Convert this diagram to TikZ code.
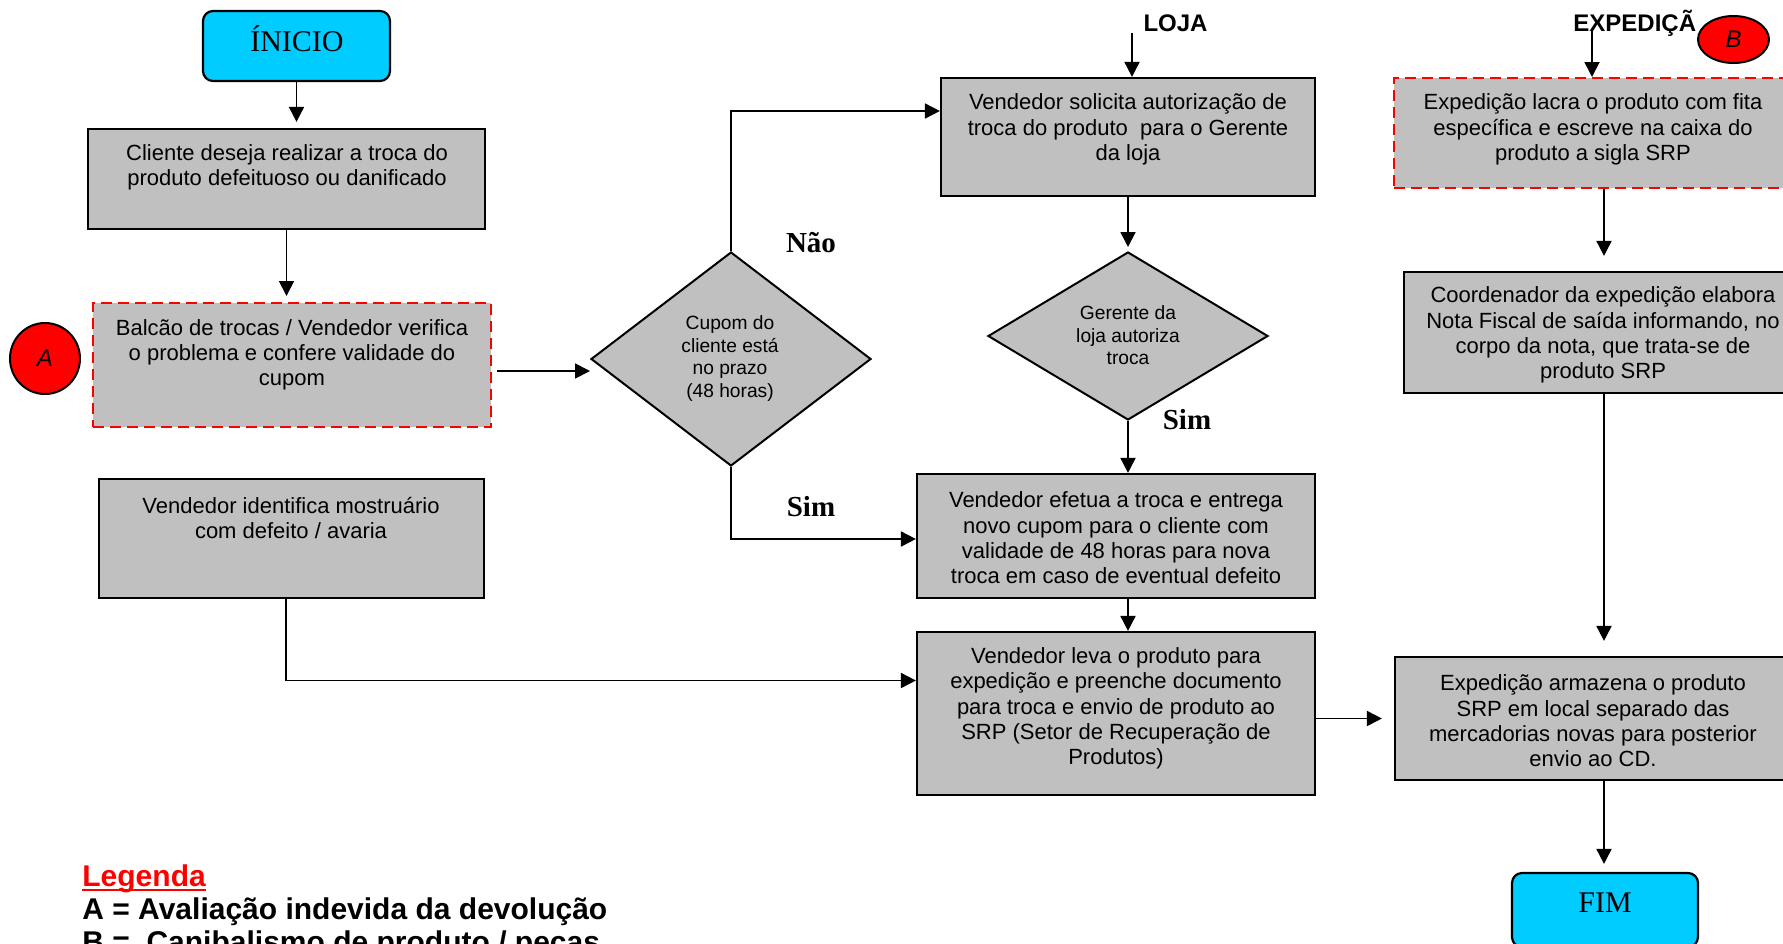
\documentclass[tikz,border=0pt]{standalone}
\usepackage{fontspec}
\setmainfont{Liberation Sans}
\newfontfamily\serifT{Liberation Serif}
\usetikzlibrary{arrows.meta,shapes.geometric,calc}

\definecolor{boxgray}{RGB}{192,192,192}
\definecolor{termcyan}{RGB}{0,204,255}

\begin{document}
\begin{tikzpicture}[x=0.5pt,y=-0.5pt,
  procbox/.style={draw=black, line width=1.1pt, fill=boxgray, inner sep=0pt},
  riskbox/.style={draw=red, dash pattern=on 5.5pt off 3pt, line width=1pt, fill=boxgray, inner sep=0pt},
  termbox/.style={draw=black, line width=1.1pt, fill=termcyan, rounded corners=5pt, inner sep=0pt},
  decision/.style={diamond, draw=black, line width=1pt, fill=boxgray, inner sep=0pt},
  marker/.style={ellipse, draw=black, line width=1pt, fill=red, inner sep=0pt, font=\fontsize{12}{14}\selectfont\itshape},
  boxtext/.style={inner sep=0pt, align=center, yshift=-1pt, font=\fontsize{11}{12.65}\selectfont},
  dectext/.style={inner sep=0pt, align=center, yshift=-1pt, font=\fontsize{9.6}{11.25}\selectfont},
  termtext/.style={inner sep=0pt, font=\serifT\fontsize{15}{18}\selectfont},
  answer/.style={inner sep=0pt, font=\serifT\bfseries\fontsize{14.5}{17}\selectfont},
  area/.style={inner sep=0pt, font=\bfseries\fontsize{12}{14}\selectfont},
  legend/.style={inner sep=0pt, anchor=base west, font=\bfseries\fontsize{15}{17}\selectfont},
  arr/.style={draw=black, line width=0.9pt, -{Triangle[length=7.5pt,width=7.5pt]}},
  line/.style={draw=black, line width=0.9pt}]

\clip (0,0) rectangle (1783,943);
\fill[white] (0,0) rectangle (1783,943);

% ---- boxes ----
\node[termbox, minimum width=93.5pt, minimum height=35pt] (inicio) at (296.5,46) {};
\node[procbox, minimum width=198.5pt, minimum height=50pt] (cliente) at (286.5,179) {};
\node[riskbox, minimum width=199pt, minimum height=62pt] (balcao) at (292,365) {};
\node[procbox, minimum width=192.5pt, minimum height=59.5pt] (identifica) at (291.5,538.5) {};
\node[decision, minimum width=140pt, minimum height=107pt] (cupom) at (731,359) {};
\node[procbox, minimum width=187pt, minimum height=59pt] (solicita) at (1128,137) {};
\node[decision, minimum width=140pt, minimum height=84pt] (gerente) at (1128,336) {};
\node[procbox, minimum width=199pt, minimum height=62pt] (efetua) at (1116,536) {};
\node[procbox, minimum width=199pt, minimum height=81.5pt] (leva) at (1116,713.5) {};
\node[riskbox, minimum width=199pt, minimum height=55pt] (lacra) at (1593,133) {};
\node[procbox, minimum width=199pt, minimum height=60.5pt] (coord) at (1603,332.5) {};
\node[procbox, minimum width=199pt, minimum height=61.5pt] (armazena) at (1594,718.5) {};
\node[termbox, minimum width=93pt, minimum height=37pt] (fim) at (1605,910) {};

% ---- box texts ----
\node[termtext, anchor=base] (tinicio) at (297,51) {ÍNICIO};
\node[boxtext] (tcliente) at (287,165.5) {Cliente deseja realizar a troca do\\produto defeituoso ou danificado};
\node[boxtext] (tbalcao) at (292,353) {Balcão de trocas / Vendedor verifica\\o problema e confere validade do\\cupom};
\node[boxtext] (tidentifica) at (291,516) {Vendedor identifica mostruário\\com defeito / avaria};
\node[dectext] (tcupom) at (730,356.5) {Cupom do\\cliente está\\no prazo\\(48 horas)};
\node[boxtext] (tsolicita) at (1128,127.5) {Vendedor solicita autorização de\\troca do produto\ \ para o Gerente\\da loja};
\node[dectext] (tgerente) at (1128,333.5) {Gerente da\\loja autoriza\\troca};
\node[boxtext] (tefetua) at (1116,536) {Vendedor efetua a troca e entrega\\novo cupom para o cliente com\\validade de 48 horas para nova\\troca em caso de eventual defeito};
\node[boxtext] (tleva) at (1116,706.5) {Vendedor leva o produto para\\expedição e preenche documento\\para troca e envio de produto ao\\SRP (Setor de Recuperação de\\Produtos)};
\node[boxtext] (tlacra) at (1593,127.5) {Expedição lacra o produto com fita\\específica e escreve na caixa do\\produto a sigla SRP};
\node[boxtext] (tcoord) at (1603,333) {Coordenador da expedição elabora\\Nota Fiscal de saída informando, no\\corpo da nota, que trata-se de\\produto SRP};
\node[boxtext] (tarmazena) at (1593,719) {Expedição armazena o produto\\SRP em local separado das\\mercadorias novas para posterior\\envio ao CD.};
\node[termtext, anchor=base] (tfim) at (1605,912) {FIM};

% ---- area headings and risk markers ----
\node[area] (loja) at (1175.5,23) {LOJA};
\node[area, anchor=west] (exped) at (1573,23) {EXPEDIÇÃ};
\node[marker, minimum width=35pt, minimum height=35.5pt] (riskA) at (45,358.5) {A};
\node[marker, minimum width=35.5pt, minimum height=23.5pt] (riskB) at (1733.5,39.5) {B};

\coordinate (lojaIn) at (1132,33);
\coordinate (expIn) at (1592,30);
\coordinate (colE) at (1604,0);

% ---- answers ----
\node[answer] (nao) at (811,243) {Não};
\node[answer] (sim1) at (811,507) {Sim};
\node[answer] (sim2) at (1187,420) {Sim};

% ---- connectors ----
\draw[arr, shorten >=3pt] (inicio.south) -- (inicio.south |- cliente.north);
\draw[arr, shorten >=3pt] (cliente.south) -- (cliente.south |- balcao.north);
\draw[arr] ($(balcao.east)+(5,6)$) -- ($(cupom.west)+(0,12)$);
\draw[arr] (cupom.north) |- ($(solicita.west)+(0,-26)$);
\draw[arr] (cupom.south) |- ($(efetua.west)+(0,3)$);
\draw[arr] (lojaIn) -- (lojaIn |- solicita.north);
\draw[arr, shorten >=2pt] (solicita.south) -- (gerente.north);
\draw[arr] (gerente.south) -- (gerente.south |- efetua.north);
\draw[arr] (gerente.south |- efetua.south) -- (gerente.south |- leva.north);
\draw[arr] ($(identifica.south)+(-5.5,0)$) |- ($(leva.west)+(0,-33)$);
\draw[arr, shorten >=6pt] (leva.east |- armazena.west) -- (armazena.west);
\draw[arr] (expIn) -- (expIn |- lacra.north);
\draw[arr, shorten >=7.5pt] (colE |- lacra.south) -- (colE |- coord.north);
\draw[arr, shorten >=7.5pt] (colE |- coord.south) -- (colE |- armazena.north);
\draw[arr, shorten >=4pt] (colE |- armazena.south) -- (colE |- fim.north);

% ---- legend ----
\node[legend, text=red] (leg) at (82,886) {Legenda};
\draw[red, line width=1.4pt] ([yshift=-2pt]leg.base west) -- ([yshift=-2pt]leg.base east);
\node[legend] (legA) at (82,919) {A = Avaliação indevida da devolução};
\node[legend] (legB) at (82,952) {B =\ \ Canibalismo de produto / peças};
\end{tikzpicture}
\end{document}
